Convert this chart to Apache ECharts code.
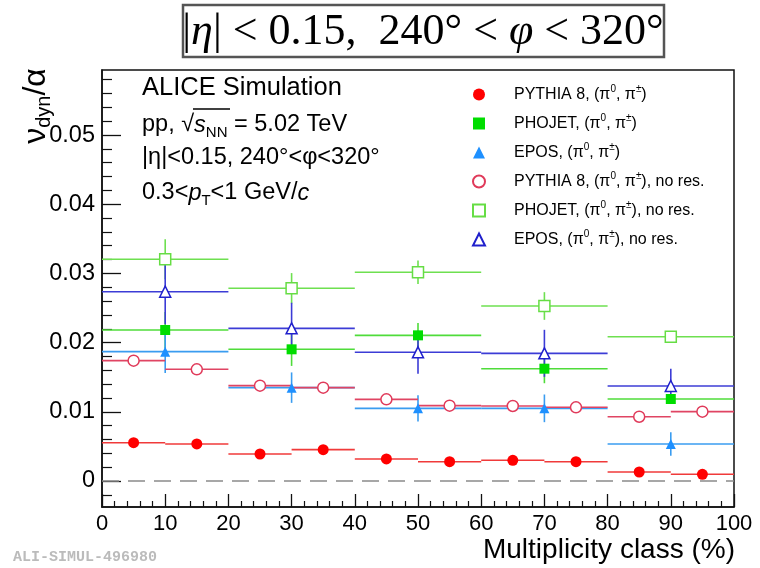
<!DOCTYPE html>
<html>
<head>
<meta charset="utf-8">
<script src="https://cdn.jsdelivr.net/npm/echarts@6/dist/echarts.min.js"></script>
<style>
html,body{margin:0;padding:0;background:#fff}
#chart{width:760px;height:568px}
</style>
</head>
<body>
<div id="chart"></div>
<script>
// Multiplicity-class bins: 10 % wide for PYTHIA, 20 % wide for PHOJET and EPOS
const pythiaBins = [5, 15, 25, 35, 45, 55, 65, 75, 85, 95];
const wideBins = [10, 30, 50, 70, 90];

const pythia8 = [0.00553, 0.00535, 0.0039, 0.00453, 0.00318, 0.00279, 0.00299, 0.00279, 0.0013, 0.00097];
const pythia8Err = [0.0002, 0.0002, 0.0002, 0.0002, 0.0002, 0.0004, 0.0002, 0.0004, 0.0002, 0.0004];
const pythia8NoRes = [0.01739, 0.01614, 0.01378, 0.01349, 0.0118, 0.01089, 0.01084, 0.01065, 0.00929, 0.01002];
const pythia8NoResErr = [0.0002, 0.0002, 0.0002, 0.0002, 0.0002, 0.0002, 0.0002, 0.0002, 0.0002, 0.0002];

const phojet = [0.02182, 0.01903, 0.02105, 0.01623, 0.01185];
const phojetErr = [0.0026, 0.0024, 0.0018, 0.0021, 0.0007];
const phojetNoRes = [0.03204, 0.02785, 0.03016, 0.02529, 0.02085];
const phojetNoResErr = [0.0029, 0.0022, 0.0017, 0.002, 0.0003];

const epos = [0.01869, 0.01349, 0.0105, 0.0105, 0.00535];
const eposErr = [0.0031, 0.0022, 0.0019, 0.002, 0.0017];
const eposNoRes = [0.02736, 0.02206, 0.0186, 0.01845, 0.01373];
const eposNoResErr = [0.0047, 0.0037, 0.0031, 0.0034, 0.0025];

const yTickValues = [0, 0.01, 0.02, 0.03, 0.04, 0.05];
const xTickValues = [0, 10, 20, 30, 40, 50, 60, 70, 80, 90, 100];

const legendNames = ['PYTHIA 8', 'PHOJET', 'EPOS', 'PYTHIA 8 no res.', 'PHOJET no res.', 'EPOS no res.'];

const FONT = 'Liberation Sans, Arial, Helvetica, sans-serif';
const Y_MIN = -0.00376, Y_MAX = 0.0594;

// minor y ticks every 0.002 between the labelled ones
const yMinorTicks = [];
for (let k = -1; k <= 29; k++) {
  if (k % 5 !== 0) yMinorTicks.push(+(k * 0.002).toFixed(4));
}

function rows(xs, ys, errs) {
  return xs.map((x, i) => [x, ys[i], errs[i]]);
}

// horizontal bin-width bar plus vertical error bar for each point
function barsSeries(xs, ys, errs, halfWidth, color, z) {
  return {
    type: 'custom',
    silent: true,
    z: z,
    data: rows(xs, ys, errs),
    encode: { x: 0, y: 1 },
    renderItem: function (params, api) {
      const x = api.value(0), y = api.value(1), e = api.value(2);
      const l = api.coord([x - halfWidth, y]);
      const r = api.coord([x + halfWidth, y]);
      const t = api.coord([x, y + e]);
      const b = api.coord([x, y - e]);
      const st = { stroke: color, lineWidth: 1.6 };
      return {
        type: 'group',
        children: [
          { type: 'line', shape: { x1: l[0], y1: l[1], x2: r[0], y2: r[1] }, style: st },
          { type: 'line', shape: { x1: t[0], y1: t[1], x2: b[0], y2: b[1] }, style: st }
        ]
      };
    }
  };
}

function markerSeries(name, xs, ys, symbol, size, fill, stroke, z) {
  return {
    type: 'scatter',
    name: name,
    z: z,
    symbol: symbol,
    symbolSize: size,
    data: xs.map((x, i) => [x, ys[i]]),
    itemStyle: { color: fill, borderColor: stroke, borderWidth: fill === '#ffffff' ? 1.5 : 0, opacity: 1 },
    emphasis: { disabled: true }
  };
}

const legendLabel = {
  'PYTHIA 8': '{t|PYTHIA 8, (π}{s|0}{t|, π}{s|±}{t|)}',
  'PHOJET': '{t|PHOJET, (π}{s|0}{t|, π}{s|±}{t|)}',
  'EPOS': '{t|EPOS, (π}{s|0}{t|, π}{s|±}{t|)}',
  'PYTHIA 8 no res.': '{t|PYTHIA 8, (π}{s|0}{t|, π}{s|±}{t|), no res.}',
  'PHOJET no res.': '{t|PHOJET, (π}{s|0}{t|, π}{s|±}{t|), no res.}',
  'EPOS no res.': '{t|EPOS, (π}{s|0}{t|, π}{s|±}{t|), no res.}'
};

const chart = echarts.init(document.getElementById('chart'), null, { renderer: 'canvas' });

chart.setOption({
  animation: false,
  backgroundColor: '#ffffff',
  grid: {
    left: 102, top: 70, width: 632, height: 437,
    show: true, borderColor: '#111', borderWidth: 1.5, backgroundColor: 'transparent'
  },
  xAxis: {
    type: 'value', min: 0, max: 100, interval: 10,
    axisLine: { onZero: false, lineStyle: { color: '#111', width: 1.5 } },
    axisTick: { inside: true, length: 13, lineStyle: { color: '#111', width: 1.3 } },
    minorTick: { show: true, splitNumber: 5, length: 6, lineStyle: { color: '#111', width: 1.2 } },
    axisLabel: { color: '#000', fontSize: 22, fontFamily: FONT, margin: 6, customValues: xTickValues },
    splitLine: { show: false }
  },
  yAxis: [
    {
      type: 'value', min: Y_MIN, max: Y_MAX,
      axisLine: { onZero: false, lineStyle: { color: '#111', width: 1.5 } },
      axisTick: { inside: true, length: 19, customValues: yTickValues, lineStyle: { color: '#111', width: 1.3 } },
      axisLabel: {
        color: '#000', fontSize: 23.5, fontFamily: FONT, margin: 7, customValues: yTickValues,
        formatter: v => (v === 0 ? '0' : v.toFixed(2))
      },
      splitLine: { show: false }
    },
    {
      type: 'value', min: Y_MIN, max: Y_MAX, position: 'left',
      axisLine: { show: false, onZero: false },
      axisTick: { inside: true, length: 10, customValues: yMinorTicks, lineStyle: { color: '#111', width: 1.2 } },
      axisLabel: { show: false },
      splitLine: { show: false }
    }
  ],
  legend: {
    data: legendNames,
    orient: 'vertical',
    left: 467, top: 79,
    itemWidth: 12, itemHeight: 12, itemGap: 8,
    selectedMode: false,
    formatter: name => legendLabel[name],
    textStyle: {
      color: '#000', fontSize: 16, fontFamily: FONT, padding: [0, 0, 0, 24], lineHeight: 21,
      rich: {
        t: { fontSize: 16, fontFamily: FONT, color: '#000', lineHeight: 21 },
        s: { fontSize: 10, fontFamily: FONT, color: '#000', verticalAlign: 'top', lineHeight: 14 }
      }
    }
  },
  series: [
    // dashed zero reference line across the full x range
    {
      type: 'custom', silent: true, z: 1,
      data: [[0, 0, 100]],
      encode: { x: 0, y: 1 },
      renderItem: function (params, api) {
        const a = api.coord([api.value(0), api.value(1)]);
        const b = api.coord([api.value(2), api.value(1)]);
        return {
          type: 'line',
          shape: { x1: a[0], y1: a[1], x2: b[0], y2: b[1] },
          style: { stroke: '#8a8a8a', lineWidth: 1.5, lineDash: [17, 9] }
        };
      }
    },
    barsSeries(pythiaBins, pythia8, pythia8Err, 5, '#f03a3a', 2),
    barsSeries(wideBins, phojet, phojetErr, 10, '#4fdc3a', 2),
    barsSeries(wideBins, epos, eposErr, 10, '#3a9cf0', 2),
    barsSeries(pythiaBins, pythia8NoRes, pythia8NoResErr, 5, '#e04463', 2),
    barsSeries(wideBins, phojetNoRes, phojetNoResErr, 10, '#6ee050', 2),
    barsSeries(wideBins, eposNoRes, eposNoResErr, 10, '#3c3cd6', 2),
    markerSeries('PYTHIA 8', pythiaBins, pythia8, 'circle', 11, '#ff0000', '#ff0000', 5),
    markerSeries('PHOJET', wideBins, phojet, 'rect', 10, '#00dd00', '#00dd00', 5),
    markerSeries('EPOS', wideBins, epos, 'triangle', 10, '#1e90ff', '#1e90ff', 5),
    markerSeries('PYTHIA 8 no res.', pythiaBins, pythia8NoRes, 'circle', 11, '#ffffff', '#e03a5a', 5),
    markerSeries('PHOJET no res.', wideBins, phojetNoRes, 'rect', 11, '#ffffff', '#66dd44', 5),
    markerSeries('EPOS no res.', wideBins, eposNoRes, 'triangle', 11, '#ffffff', '#2020cc', 5)
  ],
  graphic: [
    // boxed selection header
    {
      type: 'rect', z: 10,
      shape: { x: 183, y: 5, width: 481, height: 52 },
      style: { fill: '#fff', stroke: '#555', lineWidth: 2.5 }
    },
    {
      type: 'text', z: 11, x: 423, y: 32,
      style: {
        text: '{r||}{i|η}{r|| < 0.15,  240° < }{i|φ}{r| < 320°}',
        align: 'center', verticalAlign: 'middle',
        rich: {
          r: { fontSize: 44, fontFamily: 'Liberation Serif, Times New Roman, serif', fill: '#000' },
          i: { fontSize: 44, fontFamily: 'Liberation Serif, Times New Roman, serif', fontStyle: 'italic', fill: '#000' }
        }
      }
    },
    // y-axis title
    {
      type: 'text', z: 11, x: 36, y: 106, rotation: Math.PI / 2,
      style: {
        text: '{a|ν}{s|dyn}{a|/α}',
        align: 'center', verticalAlign: 'middle',
        rich: {
          a: { fontSize: 32, fontFamily: FONT, fill: '#000', lineHeight: 36 },
          s: { fontSize: 20, fontFamily: FONT, fill: '#000', verticalAlign: 'bottom', lineHeight: 21 }
        }
      }
    },
    // x-axis title
    {
      type: 'text', z: 11, x: 735, y: 550,
      style: { text: 'Multiplicity class (%)', fontSize: 28, fontFamily: FONT, fill: '#000', align: 'right', verticalAlign: 'middle' }
    },
    // annotation block
    {
      type: 'text', z: 11, x: 142, y: 88,
      style: { text: 'ALICE Simulation', fontSize: 25.5, fontFamily: FONT, fill: '#000', verticalAlign: 'middle' }
    },
    {
      type: 'text', z: 11, x: 142, y: 125,
      style: {
        text: '{a|pp, √}{i|s}{s|NN}{a| = 5.02 TeV}',
        verticalAlign: 'middle',
        rich: {
          a: { fontSize: 23.5, fontFamily: FONT, fill: '#000', lineHeight: 30 },
          i: { fontSize: 23.5, fontFamily: FONT, fontStyle: 'italic', fill: '#000', lineHeight: 30 },
          s: { fontSize: 15, fontFamily: FONT, fill: '#000', verticalAlign: 'bottom', lineHeight: 23 }
        }
      }
    },
    {
      type: 'line', z: 11,
      shape: { x1: 193, y1: 109, x2: 230, y2: 109 },
      style: { stroke: '#000', lineWidth: 1.3 }
    },
    {
      type: 'text', z: 11, x: 142, y: 158,
      style: { text: '|η|<0.15, 240°<φ<320°', fontSize: 23.5, fontFamily: FONT, fill: '#000', verticalAlign: 'middle' }
    },
    {
      type: 'text', z: 11, x: 142, y: 193,
      style: {
        text: '{a|0.3<}{i|p}{s|T}{a|<1 GeV/}{i|c}',
        verticalAlign: 'middle',
        rich: {
          a: { fontSize: 23.5, fontFamily: FONT, fill: '#000', lineHeight: 30 },
          i: { fontSize: 23.5, fontFamily: FONT, fontStyle: 'italic', fill: '#000', lineHeight: 30 },
          s: { fontSize: 15, fontFamily: FONT, fill: '#000', verticalAlign: 'bottom', lineHeight: 23 }
        }
      }
    },
    // record tag
    {
      type: 'text', z: 11, x: 13, y: 557,
      style: { text: 'ALI-SIMUL-496980', fontSize: 15, fontWeight: 'bold', fontFamily: 'Liberation Mono, DejaVu Sans Mono, monospace', fill: '#bbbbbb', verticalAlign: 'middle' }
    }
  ]
});
</script>
</body>
</html>
